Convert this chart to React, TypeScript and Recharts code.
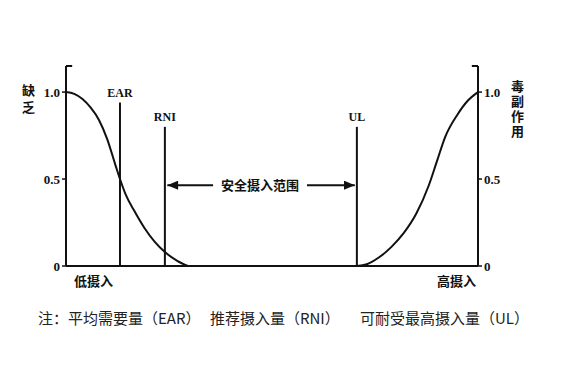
import {
  ComposedChart,
  Line,
  XAxis,
  YAxis,
  ReferenceLine,
  ReferenceDot,
} from "recharts";

// x runs 0..100 (low intake -> high intake), y is risk 0..1
const deficiencyCurve = [
  { x: 0, y: 1.0 },
  { x: 2, y: 0.99 },
  { x: 4, y: 0.96 },
  { x: 6, y: 0.91 },
  { x: 8, y: 0.84 },
  { x: 10, y: 0.73 },
  { x: 12, y: 0.58 },
  { x: 13.1, y: 0.5 },
  { x: 14.5, y: 0.41 },
  { x: 16.5, y: 0.32 },
  { x: 19, y: 0.22 },
  { x: 21.5, y: 0.14 },
  { x: 24, y: 0.08 },
  { x: 27, y: 0.03 },
  { x: 29.6, y: 0 },
];

const toxicityCurve = [
  { x: 70.6, y: 0 },
  { x: 73, y: 0.01 },
  { x: 76, y: 0.05 },
  { x: 79, y: 0.11 },
  { x: 82, y: 0.19 },
  { x: 85, y: 0.3 },
  { x: 88, y: 0.46 },
  { x: 90, y: 0.6 },
  { x: 92, y: 0.74 },
  { x: 95, y: 0.87 },
  { x: 97.5, y: 0.95 },
  { x: 100, y: 1.0 },
];

const markers = [
  { name: "EAR", x: 13.1, top: 0.94 },
  { name: "RNI", x: 24, top: 0.8 },
  { name: "UL", x: 70.6, top: 0.8 },
];

const yTicks = [0, 0.5, 1];
const safeRange = { label: "安全摄入范围", y: 0.465, from: 24.6, to: 70.1, gapFrom: 35.7, gapTo: 58.5 };
const noteParts = ["注：平均需要量（EAR）", "推荐摄入量（RNI）", "可耐受最高摄入量（UL）"];

const INK = "#111";
const serif = "'Liberation Serif', 'DejaVu Serif', serif";
const cjk = "'Noto Sans CJK SC', sans-serif";

const fmt = (v: number) => (v === 0 ? "0" : v.toFixed(1));

export default function App() {
  return (
    <div style={{ position: "absolute", left: 0, top: 0, width: 570, height: 372, background: "#fff" }}>
      <ComposedChart
        width={570}
        height={372}
        margin={{ top: 66, right: 52, left: 26, bottom: 106 }}
      >
        <defs>
          <marker
            id="arrowHead"
            viewBox="0 0 12 10"
            refX="12"
            refY="5"
            markerWidth="13"
            markerHeight="9"
            markerUnits="userSpaceOnUse"
            orient="auto-start-reverse"
          >
            <path d="M0,0 L12,5 L0,10 z" fill={INK} />
          </marker>
        </defs>

        <XAxis type="number" dataKey="x" domain={[0, 100]} hide />
        <YAxis
          yAxisId="left"
          orientation="left"
          width={40}
          domain={[0, 1.15]}
          ticks={yTicks}
          tickFormatter={fmt}
          axisLine={{ stroke: INK, strokeWidth: 2 }}
          tickLine={{ stroke: INK, strokeWidth: 1.5 }}
          tickSize={4}
          tick={{ fill: INK, fontFamily: serif, fontSize: 13, fontWeight: 700 }}
        />
        <YAxis
          yAxisId="right"
          orientation="right"
          width={40}
          domain={[0, 1.15]}
          ticks={yTicks}
          tickFormatter={fmt}
          axisLine={{ stroke: INK, strokeWidth: 2 }}
          tickLine={{ stroke: INK, strokeWidth: 1.5 }}
          tickSize={4}
          tick={{ fill: INK, fontFamily: serif, fontSize: 13, fontWeight: 700 }}
        />

        {/* baseline and the little brackets at the top of each axis */}
        <ReferenceLine yAxisId="left" y={0} stroke={INK} strokeWidth={2} />
        <ReferenceLine
          yAxisId="left"
          segment={[{ x: 0, y: 1.15 }, { x: 1.5, y: 1.15 }]}
          stroke={INK}
          strokeWidth={2}
          ifOverflow="visible"
        />
        <ReferenceLine
          yAxisId="left"
          segment={[{ x: 98.5, y: 1.15 }, { x: 100, y: 1.15 }]}
          stroke={INK}
          strokeWidth={2}
          ifOverflow="visible"
        />

        {markers.map((m) => (
          <ReferenceLine
            key={m.name}
            yAxisId="left"
            segment={[{ x: m.x, y: 0 }, { x: m.x, y: m.top }]}
            stroke={INK}
            strokeWidth={2}
            label={{
              value: m.name,
              position: "top",
              offset: 6,
              fill: INK,
              fontFamily: serif,
              fontSize: 12,
              fontWeight: 700,
            }}
          />
        ))}

        {/* safe intake range arrows */}
        <ReferenceLine
          yAxisId="left"
          segment={[{ x: safeRange.gapFrom, y: safeRange.y }, { x: safeRange.from, y: safeRange.y }]}
          stroke={INK}
          strokeWidth={2}
          markerEnd="url(#arrowHead)"
        />
        <ReferenceLine
          yAxisId="left"
          segment={[{ x: safeRange.gapTo, y: safeRange.y }, { x: safeRange.to, y: safeRange.y }]}
          stroke={INK}
          strokeWidth={2}
          markerEnd="url(#arrowHead)"
        />
        <ReferenceDot
          yAxisId="left"
          x={(safeRange.gapFrom + safeRange.gapTo) / 2}
          y={safeRange.y}
          r={0}
          stroke="none"
          label={{
            value: safeRange.label,
            position: "center",
            fill: INK,
            fontFamily: cjk,
            fontSize: 13,
            fontWeight: 700,
          }}
        />

        <Line
          yAxisId="left"
          data={deficiencyCurve}
          dataKey="y"
          type="monotone"
          stroke={INK}
          strokeWidth={2}
          dot={false}
          isAnimationActive={false}
        />
        <Line
          yAxisId="right"
          data={toxicityCurve}
          dataKey="y"
          type="monotone"
          stroke={INK}
          strokeWidth={2}
          dot={false}
          isAnimationActive={false}
        />
      </ComposedChart>

      {/* vertical axis titles */}
      <div style={{ position: "absolute", left: 19, top: 84, writingMode: "vertical-rl", fontFamily: cjk, fontSize: 13, fontWeight: 700, letterSpacing: 4, lineHeight: "18px", color: INK }}>
        缺乏
      </div>
      <div style={{ position: "absolute", left: 508, top: 80, writingMode: "vertical-rl", fontFamily: cjk, fontSize: 13, fontWeight: 700, letterSpacing: 2, lineHeight: "18px", color: INK }}>
        毒副作用
      </div>
      <div style={{ position: "absolute", left: 74, top: 271, fontFamily: cjk, fontSize: 13, fontWeight: 700, color: INK }}>
        低摄入
      </div>
      <div style={{ position: "absolute", left: 437, top: 271, fontFamily: cjk, fontSize: 13, fontWeight: 700, color: INK }}>
        高摄入
      </div>

      <div style={{ position: "absolute", top: 307, left: 0, width: 570, fontFamily: cjk, fontSize: 15, color: "#222" }}>
        <span style={{ position: "absolute", left: 38 }}>{noteParts[0]}</span>
        <span style={{ position: "absolute", left: 210 }}>{noteParts[1]}</span>
        <span style={{ position: "absolute", left: 360 }}>{noteParts[2]}</span>
      </div>
    </div>
  );
}
